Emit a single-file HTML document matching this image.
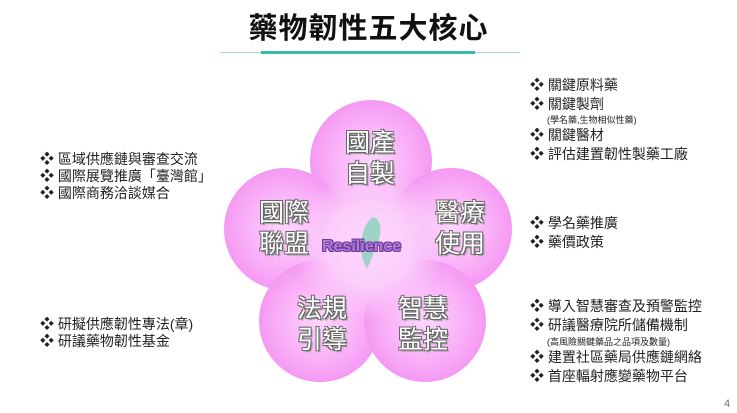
<!DOCTYPE html>
<html><head><meta charset="utf-8"><style>
body{margin:0;width:737px;height:413px;background:#fff;position:relative;overflow:hidden;font-family:"Liberation Sans","Noto Sans CJK TC",sans-serif;}
.t{position:absolute;font-size:14px;color:#222;white-space:nowrap;line-height:17px}
.s{font-size:9px}
.c{position:absolute;border-radius:50%;background:radial-gradient(circle at 50% 50%,#ffd6ff 0%,#f8a8f6 55%,#ef7bec 100%)}
.lab{position:absolute;font-size:25px;color:#fff;line-height:31px;text-align:center;width:80px;
text-shadow:-1px -1px 0 #666,1px -1px 0 #666,-1px 1px 0 #666,1px 1px 0 #666,2px 2px 1px #999}
</style></head><body>
<div style="position:absolute;left:0;width:737px;top:5px;text-align:center;font-size:29px;font-weight:bold;color:#111;letter-spacing:1px">藥物韌性五大核心</div>
<div style="position:absolute;left:220px;top:52px;width:300px;height:1px;background:#9fdcd4"></div>
<div style="position:absolute;left:261px;top:51px;width:214px;height:3px;background:#3dbaa8"></div>

<div style="position:absolute;left:300px;top:175px;width:140px;height:140px;border-radius:50%;background:#f9c4f8"></div>
<div class="c" style="left:310px;top:100px;width:122px;height:122px"></div>
<div class="c" style="left:224px;top:168px;width:122px;height:122px"></div>
<div class="c" style="left:390px;top:168px;width:122px;height:122px"></div>
<div class="c" style="left:259px;top:260px;width:122px;height:122px"></div>
<div class="c" style="left:364px;top:260px;width:122px;height:122px"></div>
<div style="position:absolute;left:295px;top:170px;width:150px;height:150px;border-radius:50%;background:radial-gradient(circle,#fcd8fc 0%,#fbcdfb 40%,rgba(250,190,250,0) 72%)"></div>
<svg style="position:absolute;left:355px;top:215px" width="30" height="60"><path d="M18 2 C26 4 27 14 24 24 C21 34 16 44 12 54 C8 46 5 38 6 28 C7 18 11 6 18 2Z" fill="#9ed3c8"/></svg>
<div style="position:absolute;left:322px;top:238px;font-size:16px;font-weight:bold;color:#b07ad8;text-shadow:-1px -1px 0 #6a3a9a,1px 1px 0 #6a3a9a,1px -1px 0 #6a3a9a,-1px 1px 0 #6a3a9a">Resilience</div>

<div class="lab" style="left:330px;top:128px">國產<br>自製</div>
<div class="lab" style="left:244px;top:198px">國際<br>聯盟</div>
<div class="lab" style="left:420px;top:198px">醫療<br>使用</div>
<div class="lab" style="left:282px;top:294px">法規<br>引導</div>
<div class="lab" style="left:383px;top:294px">智慧<br>監控</div>

<div class="t" style="left:40px;top:151px">❖ 區域供應鏈與審查交流<br>❖ 國際展覽推廣「臺灣館」<br>❖ 國際商務洽談媒合</div>
<div class="t" style="left:40px;top:316px">❖ 研擬供應韌性專法(章)<br>❖ 研議藥物韌性基金</div>
<div class="t" style="left:530px;top:76px;line-height:19px">❖ 關鍵原料藥<br>❖ 關鍵製劑</div>
<div class="t s" style="left:547px;top:112px">(學名藥,生物相似性藥)</div>
<div class="t" style="left:530px;top:126px;line-height:19px">❖ 關鍵醫材<br>❖ 評估建置韌性製藥工廠</div>
<div class="t" style="left:530px;top:214px;line-height:19px">❖ 學名藥推廣<br>❖ 藥價政策</div>
<div class="t" style="left:530px;top:297px;line-height:19px">❖ 導入智慧審查及預警監控<br>❖ 研議醫療院所儲備機制</div>
<div class="t s" style="left:547px;top:334px">(高風險關鍵藥品之品項及數量)</div>
<div class="t" style="left:530px;top:348px;line-height:19px">❖ 建置社區藥局供應鏈網絡<br>❖ 首座輻射應變藥物平台</div>
<div class="t" style="left:724px;top:396px;font-size:11px;color:#777">4</div>
</body></html>
